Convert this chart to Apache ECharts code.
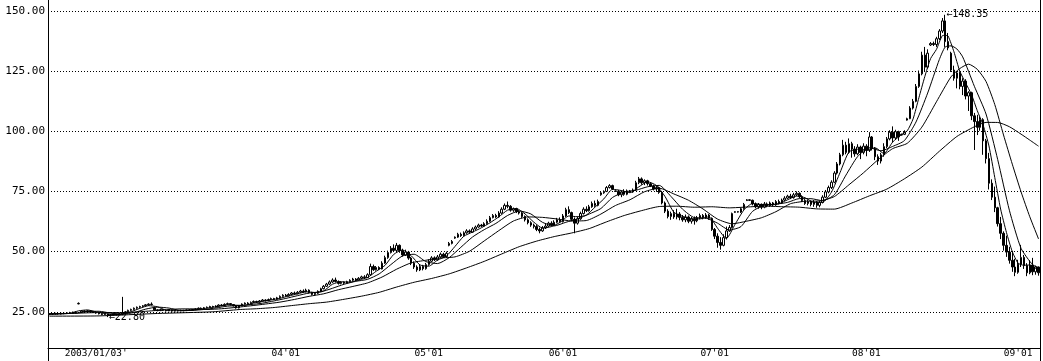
<!DOCTYPE html>
<html><head><meta charset="utf-8">
<script src="https://cdn.jsdelivr.net/npm/echarts@6/dist/echarts.min.js"></script>
<style>html,body{margin:0;padding:0;background:#fff}#c{width:1043px;height:361px}</style>
</head><body><div id="c"></div>
<script>
const tickLabels = ["2003/01/03'", "04'01", "05'01", "06'01", "07'01", "08'01", "09'01"];
const tickPositions = [16, 81, 130, 176, 228, 280, 332];

// [open, close, low, high]
const weeklyOHLC = [
[23.9,24.2,23.6,24.4],[24.2,24.0,23.7,24.5],[24.0,24.3,23.8,24.6],[24.3,24.1,23.8,24.6],[24.1,24.4,23.9,24.7],
[24.4,24.3,24.0,24.8],[24.3,24.6,24.1,24.9],[24.6,24.5,24.2,25.0],[24.5,24.8,24.3,25.1],[24.8,24.6,24.3,25.2],
[28.3,28.5,28.1,28.9],[24.8,25.3,24.6,25.6],[25.3,25.1,24.8,25.6],[25.1,25.4,24.9,25.7],[25.4,25.0,24.7,25.6],
[25.0,24.8,24.5,25.2],[24.8,24.5,24.2,25.0],[24.5,24.2,23.9,24.7],[24.2,23.9,23.6,24.4],[23.9,24.1,23.5,24.3],
[24.1,23.5,22.8,24.2],[23.5,23.8,23.2,24.0],[23.8,24.0,23.5,24.3],[24.0,23.8,23.5,24.2],[23.8,24.1,23.6,24.4],
[24.1,24.5,23.6,31.2],[24.4,25.0,24.2,25.3],[25.0,25.6,24.8,25.9],[25.6,26.0,25.3,26.3],[26.0,26.5,25.7,26.8],
[26.5,26.9,26.2,27.2],[26.9,27.2,26.6,27.5],[27.2,27.5,26.9,27.8],[27.5,27.9,27.2,28.2],[27.9,28.2,27.5,28.5],
[28.2,28.0,27.7,28.9],[26.6,25.8,25.5,26.9],[25.8,25.5,25.2,26.0],[25.5,25.9,25.3,26.2],[25.9,25.6,25.3,26.1],
[25.6,25.4,25.1,25.8],[25.4,25.6,25.2,25.9],[25.6,25.3,25.0,25.8],[25.3,25.5,25.1,25.8],[25.5,25.4,25.1,25.7],
[25.4,25.6,25.2,25.9],[25.6,25.5,25.2,25.8],[25.5,25.8,25.3,26.0],[25.8,25.7,25.4,26.1],[25.7,26.0,25.5,26.2],
[26.0,26.2,25.8,26.5],[26.2,26.5,26.0,26.8],[26.5,26.3,26.1,26.8],[26.3,26.7,26.1,27.0],[26.7,26.9,26.5,27.2],
[26.9,27.2,26.7,27.5],[27.2,27.0,26.8,27.5],[27.0,27.4,26.8,27.7],[27.4,27.8,27.2,28.1],[27.8,27.6,27.3,28.2],
[27.6,28.1,27.4,28.5],[28.1,28.4,27.9,28.8],[28.4,28.0,27.7,28.6],[28.0,27.5,27.2,28.2],[27.5,26.6,26.3,27.7],
[26.6,27.5,26.4,27.8],[27.5,28.2,27.3,28.5],[28.2,28.6,28.0,28.9],[28.6,28.3,28.0,29.0],[28.3,28.9,28.1,29.3],
[28.9,29.3,28.7,29.7],[29.3,29.0,28.7,29.6],[29.0,29.5,28.8,29.9],[29.5,29.9,29.3,30.3],[29.9,29.6,29.3,30.2],
[29.6,30.1,29.4,30.5],[30.1,30.5,29.9,30.9],[30.5,30.2,29.9,30.8],[30.2,30.8,30.0,31.2],[30.8,31.4,30.6,31.8],
[31.4,31.9,31.2,32.3],[31.9,31.6,31.3,32.4],[31.6,32.2,31.4,32.7],[32.2,32.8,32.0,33.2],[32.8,32.5,32.2,33.4],
[32.5,33.1,32.3,33.6],[33.1,33.6,32.9,34.1],[33.6,33.3,32.9,34.3],[33.3,34.0,33.1,34.6],[34.0,33.0,32.6,34.3],
[33.0,32.2,31.8,33.3],[32.2,32.7,31.6,33.1],[32.7,33.5,32.4,33.9],[33.5,34.6,33.3,35.0],[34.6,35.6,34.3,36.1],
[35.6,36.5,35.3,37.0],[36.5,37.4,36.1,38.0],[37.4,38.2,37.0,38.9],[38.2,37.6,37.2,39.2],[37.6,36.8,36.3,38.0],
[36.8,37.3,36.4,37.7],[37.3,36.9,36.5,37.6],[36.9,37.5,36.6,37.9],[37.5,38.1,37.2,38.5],[38.1,38.6,37.8,39.1],
[38.6,38.2,37.8,39.0],[38.2,38.9,38.0,39.4],[38.9,39.5,38.6,40.0],[39.5,39.2,38.8,40.2],[39.2,40.4,39.0,41.0],
[40.4,43.8,40.1,45.0],[43.8,42.5,42.0,44.6],[42.5,43.4,42.1,44.0],[43.4,42.8,42.3,43.9],[42.8,45.2,42.6,46.0],
[45.2,47.5,44.9,48.3],[47.5,49.6,47.0,50.4],[49.6,51.4,49.2,52.3],[51.4,50.5,49.8,53.0],[50.5,52.6,50.1,53.6],
[52.6,50.4,49.5,53.0],[50.4,48.6,47.9,51.2],[48.6,49.8,48.2,50.8],[49.8,47.3,46.6,50.3],[47.3,45.2,44.4,47.8],
[45.2,43.6,42.8,45.9],[43.6,42.4,41.6,44.3],[42.4,43.8,41.9,44.6],[43.8,42.9,42.2,44.5],[42.9,44.6,42.5,45.3],
[44.6,46.0,44.1,46.8],[46.0,47.4,45.6,48.1],[47.4,46.6,46.1,48.0],[46.6,47.8,46.2,48.6],[47.8,48.9,47.4,49.6],
[48.9,47.9,47.5,49.5],[47.9,49.3,47.5,50.0],[52.6,53.4,52.2,54.0],[53.4,54.2,53.0,54.8],[55.6,56.0,55.3,56.3],
[56.0,57.2,55.7,57.8],[57.2,56.6,56.1,57.9],[56.6,57.8,56.3,58.4],[57.8,58.6,57.4,59.3],[58.6,58.1,57.6,59.2],
[58.1,59.4,57.8,60.1],[59.4,60.2,59.0,60.8],[60.2,61.0,59.9,61.6],[61.0,60.6,60.2,61.5],[60.6,61.6,60.3,62.2],
[61.6,62.6,61.2,63.4],[62.6,64.1,62.3,64.8],[64.1,65.0,63.8,65.6],[65.0,64.4,64.0,65.7],[64.4,66.0,64.1,66.8],
[66.0,67.6,65.7,68.4],[67.6,69.2,67.2,70.0],[69.2,68.8,68.0,70.8],[68.8,67.2,66.6,69.3],[67.2,67.8,66.5,68.3],
[67.8,66.6,66.0,68.2],[66.6,66.0,65.4,67.2],[66.0,64.6,64.0,66.4],[64.6,63.2,62.5,65.0],[63.2,62.0,61.3,63.8],
[62.0,61.0,60.3,62.6],[61.0,60.4,59.6,61.6],[60.4,59.2,58.5,61.0],[59.2,58.6,57.6,60.0],[58.6,59.8,58.2,60.6],
[59.8,60.6,59.4,61.8],[60.6,61.8,60.2,62.4],[61.8,61.0,60.5,62.6],[61.0,62.2,60.7,63.0],[62.2,63.2,61.8,64.0],
[63.2,62.4,62.0,64.2],[62.4,64.8,62.1,65.6],[64.8,67.4,64.4,68.2],[67.4,66.2,65.6,68.8],[66.2,63.4,62.6,66.6],
[63.4,61.8,57.6,64.2],[61.8,63.6,61.2,64.6],[63.6,65.8,63.2,66.6],[65.8,67.6,65.4,68.4],[67.6,67.0,66.4,68.8],
[67.0,68.6,66.6,69.4],[68.6,70.0,68.2,70.8],[70.0,69.2,68.6,71.2],[69.2,70.8,68.8,71.6],[73.6,74.4,73.2,74.9],
[74.4,75.0,74.0,75.4],[75.0,76.6,74.7,77.2],[76.6,77.4,76.2,78.0],[77.4,76.0,75.6,77.8],[75.2,75.0,74.8,75.4],
[75.0,73.6,73.0,75.6],[73.6,74.8,72.6,75.4],[74.8,73.8,73.2,75.9],[73.8,75.2,73.4,75.8],[75.2,74.8,74.5,75.6],
[74.8,75.6,74.4,76.2],[75.6,78.6,75.2,79.4],[78.6,80.2,78.0,81.0],[80.2,78.6,77.8,80.8],[78.6,79.4,77.6,80.0],
[79.4,78.2,77.4,79.8],[78.2,77.2,76.8,78.8],[77.2,76.0,75.4,77.8],[76.0,76.6,74.8,77.2],[76.6,74.6,74.0,77.0],
[74.6,70.2,69.6,75.0],[70.2,66.8,66.0,70.8],[66.8,64.6,63.8,67.6],[64.6,65.8,63.2,66.6],[65.8,64.4,63.6,67.2],
[64.4,65.6,63.4,67.8],[65.6,64.2,63.0,66.4],[64.2,63.2,62.4,65.2],[63.2,64.4,62.2,65.4],[64.4,62.6,61.8,65.0],
[62.6,63.6,61.6,64.4],[63.6,62.8,61.2,64.6],[62.8,64.0,62.2,64.8],[64.0,65.0,63.4,65.8],[65.0,64.2,63.4,65.6],
[64.2,65.2,63.6,66.0],[65.2,63.8,63.2,65.6],[63.8,59.2,58.6,64.2],[59.2,56.4,55.2,59.8],[56.4,53.8,51.6,57.6],
[53.8,52.6,50.8,56.0],[52.6,55.8,52.2,57.2],[55.8,58.6,55.0,60.4],[58.6,60.0,58.2,61.0],[60.0,65.8,59.6,66.2],
[66.3,66.6,66.1,66.8],[66.6,66.4,66.2,66.8],[66.4,67.8,66.0,68.4],[67.8,69.6,67.4,70.2],[71.2,71.5,71.0,71.8],
[71.5,71.3,71.0,71.7],[71.3,69.8,69.2,71.6],[69.8,68.6,68.0,70.4],[68.6,69.6,67.8,70.2],[69.6,68.4,67.6,70.0],
[68.4,69.8,68.0,70.6],[69.8,69.0,68.4,70.4],[69.0,70.2,68.6,70.8],[70.2,69.4,68.8,70.6],[69.4,70.8,69.0,71.4],
[70.8,70.2,69.6,71.6],[70.2,71.4,69.8,72.0],[71.4,72.2,71.0,73.0],[72.2,73.0,71.8,73.6],[73.0,72.4,71.8,74.0],
[72.4,73.6,72.0,74.4],[73.6,74.2,73.0,75.0],[74.2,72.8,72.2,74.6],[72.8,71.2,70.6,73.4],[71.2,70.0,69.4,71.8],
[70.0,70.8,69.2,71.6],[70.8,69.6,68.8,71.2],[69.6,70.6,68.6,71.4],[70.6,69.2,68.2,71.0],[69.2,70.4,68.4,71.0],
[70.4,72.6,70.0,73.4],[72.6,74.8,72.2,75.6],[74.8,76.6,74.2,77.4],[76.6,78.8,76.0,79.6],[78.8,82.6,78.4,83.4],
[82.6,86.4,82.0,87.2],[86.4,90.2,85.8,91.0],[90.2,94.2,89.6,96.4],[94.2,91.2,90.4,95.6],[91.2,94.8,90.6,97.0],
[94.8,92.6,89.0,95.6],[92.6,90.6,89.4,93.8],[90.6,93.4,90.0,94.6],[93.4,91.2,88.4,94.0],[91.2,93.8,90.4,95.0],
[93.8,92.0,89.6,94.6],[92.0,97.6,91.4,99.6],[97.6,92.8,92.0,98.0],[92.8,89.4,88.0,93.4],[89.4,87.6,86.0,90.4],
[87.6,90.2,86.6,91.0],[90.2,93.6,89.4,95.0],[93.6,96.8,93.0,97.6],[96.8,99.6,96.2,100.4],[99.6,97.2,95.4,102.0],
[97.2,99.8,96.4,100.6],[99.8,97.6,96.0,100.2],[98.4,98.7,98.2,99.0],[98.7,99.6,98.4,100.4],[104.6,105.2,104.4,105.6],
[105.2,109.6,105.0,110.4],[109.6,112.4,109.0,113.4],[112.4,118.6,112.0,119.6],[118.6,123.8,118.0,125.2],[123.8,131.6,123.2,133.0],
[131.6,126.6,124.6,135.0],[126.6,132.4,126.0,134.0],[135.8,136.4,135.4,137.0],[136.4,136.0,135.4,137.2],[136.0,138.4,135.0,139.2],
[138.4,141.6,137.8,142.4],[141.6,145.8,140.8,147.0],[145.8,137.2,135.0,148.35],[137.2,134.6,133.6,140.8],[132.4,125.4,124.6,133.0],
[125.4,122.0,121.0,127.2],[122.0,124.2,117.8,125.0],[124.2,118.6,117.4,124.8],[118.6,120.8,115.0,122.0],[120.8,114.6,113.2,121.6],
[114.6,116.0,108.4,116.6],[116.0,106.4,104.6,116.4],[106.4,104.0,92.2,107.6],[104.0,101.6,98.4,106.8],[101.6,104.8,100.2,106.0],
[104.8,96.0,90.2,105.4],[96.0,88.6,86.6,96.8],[88.6,78.4,75.8,91.0],[78.4,72.6,71.4,80.0],[72.6,68.2,66.4,77.0],
[68.2,61.6,60.4,68.6],[61.6,57.6,55.2,64.4],[57.6,52.6,50.4,58.4],[52.6,49.8,47.8,56.6],[49.8,46.4,45.0,52.0],
[46.4,43.6,41.6,50.2],[43.6,41.4,39.8,47.0],[41.4,44.8,40.8,46.6],[44.8,47.6,43.6,52.8],[47.6,44.2,42.8,48.6],
[44.2,41.2,39.8,45.2],[41.2,44.4,40.6,46.4],[44.4,41.6,40.2,47.4],[41.6,43.6,40.4,44.2],[43.6,41.2,40.0,43.8]
];

// moving-average lines: [bar index, value]
const ma5 = [[0,24.2],[4,24.2],[7,24.38],[10,25.4],[13,25.78],[16,24.96],[19,24.3],[22,23.86],[25,24.04],[28,25.04],[31,26.44],[34,27.54],[37,27.08],[40,25.64],[43,25.48],[46,25.46],[49,25.72],[52,26.14],[55,26.72],[58,27.26],[61,27.86],[64,27.72],[67,27.68],[70,28.66],[73,29.32],[76,29.92],[79,30.6],[82,31.58],[85,32.44],[88,33.3],[91,33.04],[94,33.72],[97,36.46],[100,37.46],[103,37.32],[106,38.26],[109,39.24],[112,41.86],[115,44.28],[118,48.84],[121,50.7],[124,48.26],[127,44.46],[130,43.94],[133,46.48],[136,48.1],[139,52.16],[142,56.36],[145,58.1],[148,59.86],[151,61.98],[154,64.42],[157,67.2],[160,67.92],[163,65.64],[166,62.24],[169,59.8],[172,60.36],[175,62.12],[178,64.8],[181,64.48],[184,65.16],[187,68.48],[190,71.88],[193,75.88],[196,75.36],[199,74.44],[202,76.88],[205,79.0],[208,77.48],[211,72.84],[214,66.36],[217,64.64],[220,63.6],[223,63.6],[226,64.44],[229,59.68],[232,55.44],[235,61.36],[238,67.24],[241,70.0],[244,69.54],[247,69.4],[250,69.92],[253,71.52],[256,73.08],[259,72.36],[262,70.44],[265,70.48],[268,74.64],[271,82.92],[274,91.36],[277,92.52],[280,92.2],[283,93.12],[286,90.72],[289,95.48],[292,98.58],[294,100.18],[296,105.1],[298,113.92],[300,122.6],[302,130.16],[304,133.96],[306,139.64],[307,139.8],[308,139.52],[310,133.0],[312,124.96],[314,120.04],[316,115.28],[318,108.52],[320,102.56],[322,93.88],[324,80.76],[326,67.68],[328,57.96],[330,50.0],[332,45.2],[334,44.32],[336,44.44],[338,43.0],[339,42.4]];
const ma10 = [[0,24.2],[9,24.38],[13,25.15],[17,25.22],[21,24.43],[25,24.04],[29,24.68],[33,26.12],[37,26.95],[41,26.54],[45,25.56],[49,25.58],[53,25.97],[57,26.59],[61,27.34],[65,27.59],[69,28.01],[73,28.58],[77,29.53],[81,30.55],[85,31.7],[89,32.8],[93,33.25],[97,34.77],[101,36.44],[105,37.66],[109,38.46],[113,40.73],[117,44.58],[121,48.2],[125,48.9],[129,45.86],[133,45.03],[137,47.48],[141,51.79],[145,56.06],[149,59.11],[153,61.7],[157,64.99],[161,66.86],[165,65.64],[169,62.14],[173,60.66],[177,62.18],[181,63.6],[185,65.62],[189,67.88],[193,72.5],[197,74.74],[201,75.48],[205,76.92],[209,77.5],[213,72.94],[217,67.6],[221,64.12],[225,63.92],[229,61.8],[233,58.96],[237,60.38],[241,66.74],[245,69.28],[249,69.69],[253,70.44],[257,72.0],[261,71.98],[265,71.14],[269,73.6],[273,81.78],[277,89.48],[281,93.14],[285,91.86],[289,93.68],[293,96.07],[297,103.83],[301,115.85],[305,129.78],[307,134.98],[309,135.44],[311,134.16],[313,130.86],[317,118.66],[321,107.14],[325,88.22],[329,67.18],[333,51.36],[337,44.5],[339,43.36]];
const ma20 = [[0,24.0],[9,24.4],[14,24.6],[19,24.73],[24,24.64],[29,24.88],[34,25.3],[39,25.77],[44,26.17],[49,26.22],[54,25.96],[59,26.27],[64,26.84],[69,27.49],[74,28.22],[79,29.02],[84,30.14],[89,31.42],[94,32.48],[99,34.16],[104,35.53],[109,36.99],[114,39.44],[119,42.7],[124,45.34],[129,46.4],[134,47.35],[139,47.81],[144,50.16],[149,54.43],[154,58.7],[159,62.69],[164,64.4],[169,64.21],[174,63.54],[179,62.72],[184,62.89],[189,65.59],[194,69.15],[199,71.55],[204,74.88],[209,76.36],[214,73.95],[219,71.34],[224,67.7],[229,63.49],[234,61.54],[239,62.64],[244,64.04],[249,66.58],[254,69.9],[259,70.9],[264,71.04],[269,72.85],[274,77.73],[279,82.72],[284,88.16],[289,92.76],[294,94.97],[299,101.69],[304,112.21],[309,122.57],[312,126.0],[315,127.85],[318,125.71],[321,120.65],[324,111.07],[327,98.43],[330,86.32],[333,74.83],[336,64.47],[339,55.27]];
const ma60 = [[0,23.2],[17,23.3],[37,24.3],[56,25.0],[65,25.93],[71,26.27],[77,26.78],[83,27.58],[89,28.37],[95,29.03],[101,30.2],[107,31.5],[113,33.08],[119,35.29],[125,37.27],[131,38.85],[137,40.75],[143,43.25],[149,45.94],[155,49.01],[161,52.04],[167,54.36],[173,56.23],[179,57.74],[185,59.56],[191,62.38],[197,64.99],[203,67.03],[209,68.72],[215,68.85],[221,68.43],[227,68.62],[233,68.17],[239,68.51],[245,68.89],[251,68.64],[257,68.44],[263,67.74],[269,67.64],[275,70.17],[281,73.14],[287,75.95],[293,80.21],[299,85.1],[305,91.67],[311,97.8],[317,101.84],[321,103.66],[325,103.63],[329,101.86],[333,98.78],[336,96.31],[339,93.78]];

const categories = weeklyOHLC.map((_, i) => {
  const k = tickPositions.indexOf(i);
  return k >= 0 ? tickLabels[k] : String(i);
});

const chart = echarts.init(document.getElementById('c'), null, {renderer: 'canvas'});
const maLine = (name, data) => ({
  name, type: 'line', data, symbol: 'none', smooth: 0.2, silent: true, z: 3,
  lineStyle: {color: '#000', width: 1}
});
chart.setOption({
  animation: false,
  backgroundColor: '#fff',
  grid: {left: 48, right: 3, top: -49.4, bottom: -11, containLabel: false, outerBoundsMode: 'none'},
  xAxis: {
    type: 'category', data: categories, boundaryGap: true, offset: -24,
    axisLine: {lineStyle: {color: '#000', width: 1}},
    axisTick: {show: false},
    axisLabel: {interval: (i) => tickPositions.includes(i), margin: 1, color: '#000',
      fontFamily: 'DejaVu Sans Mono', fontSize: 9.5},
    splitLine: {show: false}
  },
  yAxis: [{
    type: 'value', min: 0, max: 175, interval: 25, position: 'left',
    axisLine: {show: true, lineStyle: {color: '#000', width: 1}},
    axisTick: {show: false},
    axisLabel: {formatter: v => v.toFixed(2), margin: 3, color: '#000',
      fontFamily: 'DejaVu Sans Mono', fontSize: 11},
    splitLine: {show: true, lineStyle: {color: '#000', width: 1, type: [1, 2]}}
  }, {
    type: 'value', min: 0, max: 175, interval: 25, position: 'right',
    axisLine: {show: true, lineStyle: {color: '#000', width: 1}},
    axisTick: {show: false}, axisLabel: {show: false}, splitLine: {show: false}
  }],
  series: [{
    type: 'candlestick', data: weeklyOHLC, barWidth: 2, z: 2,
    itemStyle: {color: '#fff', color0: '#000', borderColor: '#000', borderColor0: '#000', borderWidth: 1},
    markPoint: {
      symbol: 'circle', symbolSize: 0, silent: true,
      data: [{type: 'max', valueDim: 'highest'}, {type: 'min', valueDim: 'lowest'}],
      label: {show: true, position: 'right', distance: 1, color: '#000',
        fontFamily: 'DejaVu Sans Mono', fontSize: 10,
        formatter: p => '\u2190' + Number(p.value).toFixed(2)}
    }
  },
  maLine('MA5', ma5), maLine('MA10', ma10), maLine('MA20', ma20), maLine('MA60', ma60)]
});
</script></body></html>
